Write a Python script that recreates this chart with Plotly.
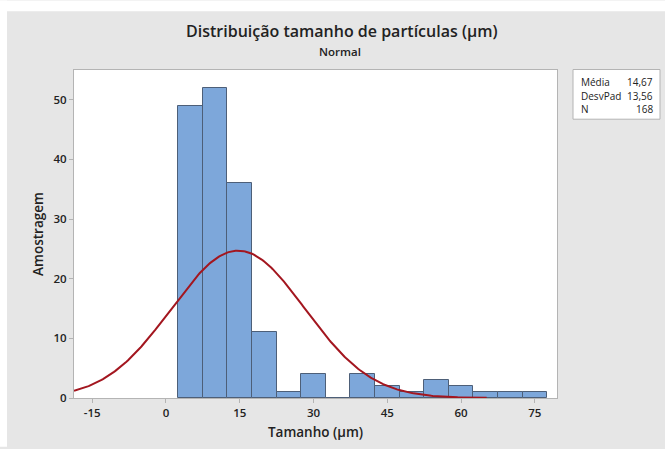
import numpy as np
import plotly.graph_objects as go

# ---- data ----
bin_centers = [5, 10, 15, 20, 25, 30, 35, 40, 45, 50, 55, 60, 65, 70, 75]
counts = [49, 52, 36, 11, 1, 4, 0, 4, 2, 1, 3, 2, 1, 1, 1]
bin_width = 5
mean_val = 14.67
sd_val = 13.56
n_val = 168
x_ticks = [-15, 0, 15, 30, 45, 60, 75]
y_ticks = [0, 10, 20, 30, 40, 50]
stat_labels = ["Média", "DesvPad", "N"]
stat_values = ["14,67", "13,56", "168"]
curve_start, curve_end = -18.7, 65.2

# ---- geometry (pixels) ----
W, H = 665, 449
L, R, T, B = 74, 557, 70, 400
pw, ph = R - L, B - T


def px(x):
    return (x - L) / pw


def py(y):
    return (B - y) / ph


FONT = "Open Sans"
TXT = "#222222"

# fitted normal curve scaled to the histogram
xc = np.linspace(curve_start, curve_end, 300)
yc = n_val * bin_width / (sd_val * np.sqrt(2 * np.pi)) * np.exp(-0.5 * ((xc - mean_val) / sd_val) ** 2)

fig = go.Figure()
fig.add_trace(go.Bar(
    x=bin_centers, y=counts, width=bin_width,
    marker=dict(color="#7da7da", line=dict(color="#4d5f78", width=1)),
    hoverinfo="x+y",
))
fig.add_trace(go.Scatter(
    x=xc, y=yc, mode="lines",
    line=dict(color="#a3161f", width=2),
    hoverinfo="skip",
))

shapes = [
    # white strips around the grey graph region
    dict(type="rect", xref="paper", yref="paper", x0=px(0), x1=px(W), y0=py(11), y1=py(0),
         fillcolor="white", line=dict(width=0), layer="below"),
    dict(type="rect", xref="paper", yref="paper", x0=px(0), x1=px(7), y0=py(H), y1=py(0),
         fillcolor="white", line=dict(width=0), layer="below"),
    # stats box
    dict(type="rect", xref="paper", yref="paper", x0=px(573), x1=px(660), y0=py(119.5), y1=py(69.5),
         fillcolor="white", line=dict(color="#b4b4b4", width=1)),
]

annotations = [
    dict(text="Distribuição tamanho de partículas (µm)", xref="paper", yref="paper",
         x=px(341.5), y=py(31), xanchor="center", yanchor="middle", showarrow=False,
         font=dict(family=FONT, size=16, color=TXT, weight=600)),
    dict(text="Normal", xref="paper", yref="paper",
         x=px(340), y=py(51), xanchor="center", yanchor="middle", showarrow=False,
         font=dict(family=FONT, size=11.5, color=TXT, weight=600)),
]
row_y = [82, 96, 109]
for lab, val, yy in zip(stat_labels, stat_values, row_y):
    annotations.append(dict(text=lab, xref="paper", yref="paper", x=px(579), y=py(yy),
                            xanchor="left", yanchor="middle", showarrow=False,
                            font=dict(family=FONT, size=10, color=TXT, weight=500)))
    annotations.append(dict(text=val, xref="paper", yref="paper", x=px(655), y=py(yy),
                            xanchor="right", yanchor="middle", showarrow=False,
                            font=dict(family=FONT, size=10, color=TXT, weight=500)))

fig.update_layout(
    width=W, height=H,
    margin=dict(l=L, r=W - R, t=T, b=H - B),
    paper_bgcolor="#e6e6e6",
    plot_bgcolor="white",
    showlegend=False,
    bargap=0,
    shapes=shapes,
    annotations=annotations,
    font=dict(family=FONT, color=TXT),
)
fig.update_xaxes(
    range=[-18.7, 79.5], tickvals=x_ticks, ticktext=[str(v) for v in x_ticks],
    showgrid=False, zeroline=False,
    showline=True, linecolor="#b4b4b4", linewidth=1, mirror=True,
    ticks="outside", ticklen=4, tickcolor="#b4b4b4",
    tickfont=dict(family=FONT, size=11.5, color=TXT, weight=600),
    title=dict(text="Tamanho (µm)", font=dict(family=FONT, size=13.5, color=TXT, weight=600), standoff=8),
)
fig.update_yaxes(
    range=[0, 55], tickvals=y_ticks,
    showgrid=False, zeroline=False,
    showline=True, linecolor="#b4b4b4", linewidth=1, mirror=True,
    ticks="outside", ticklen=4, tickcolor="#b4b4b4",
    tickfont=dict(family=FONT, size=11.5, color=TXT, weight=600),
    title=dict(text="Amostragem", font=dict(family=FONT, size=13.5, color=TXT, weight=600), standoff=6),
)

fig.write_html("out.html", config={"displayModeBar": False})

# remove the browser's default body margin so the figure sits at (0, 0)
with open("out.html", "r", encoding="utf-8") as f:
    html = f.read()
html = html.replace("<body>", '<body style="margin:0;padding:0;overflow:hidden">', 1)
html = html.replace("<head>", "<head><style>html,body{margin:0;padding:0;}</style>", 1)
with open("out.html", "w", encoding="utf-8") as f:
    f.write(html)
